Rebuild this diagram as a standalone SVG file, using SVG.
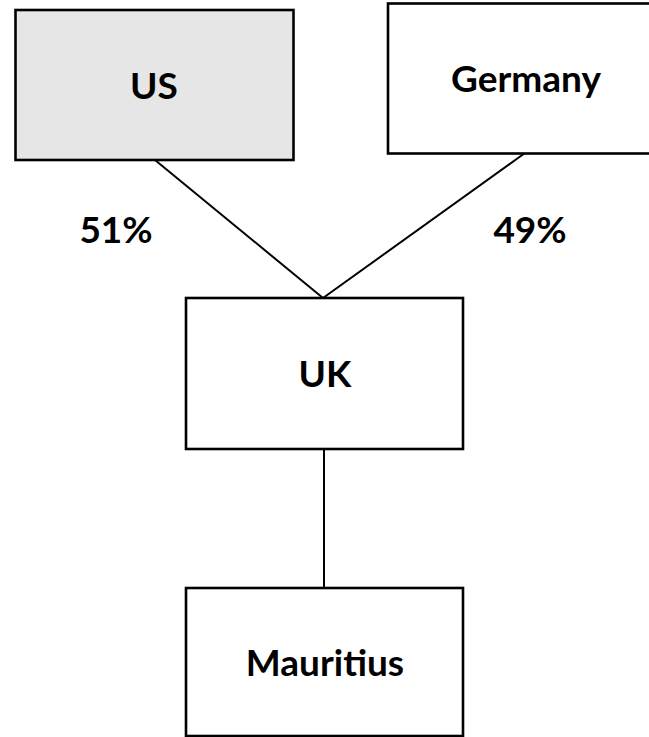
<svg xmlns="http://www.w3.org/2000/svg" width="649" height="737" viewBox="0 0 649 737">
<style>
.box{stroke:#000;stroke-width:2.6;fill:#fff}
.lbl{font-family:Lato,"Open Sans",sans-serif;font-weight:bold;font-size:37px;fill:#000;text-anchor:middle}
.conn line{stroke:#000;stroke-width:2}
</style>
<rect width="649" height="737" fill="#fff"/>
<g class="conn" id="connectors">
<line x1="155" y1="160" x2="323" y2="298"/>
<line x1="525" y1="153" x2="323" y2="298"/>
<line x1="324" y1="449" x2="324" y2="588"/>
</g>
<g id="us"><rect class="box" x="15.5" y="10" width="278" height="150" style="fill:#e6e6e6"/><text class="lbl" x="154" y="99">US</text></g>
<g id="germany"><rect class="box" x="388" y="3.5" width="270" height="150"/><text class="lbl" x="526" y="92">Germany</text></g>
<g id="uk"><rect class="box" x="186" y="298" width="277" height="151"/><text class="lbl" x="325" y="387">UK</text></g>
<g id="mauritius"><rect class="box" x="186" y="588" width="277" height="148"/><text class="lbl" x="325" y="676">Mauritius</text></g>
<text class="lbl" x="116" y="243">51%</text>
<text class="lbl" x="530" y="243">49%</text>
</svg>
